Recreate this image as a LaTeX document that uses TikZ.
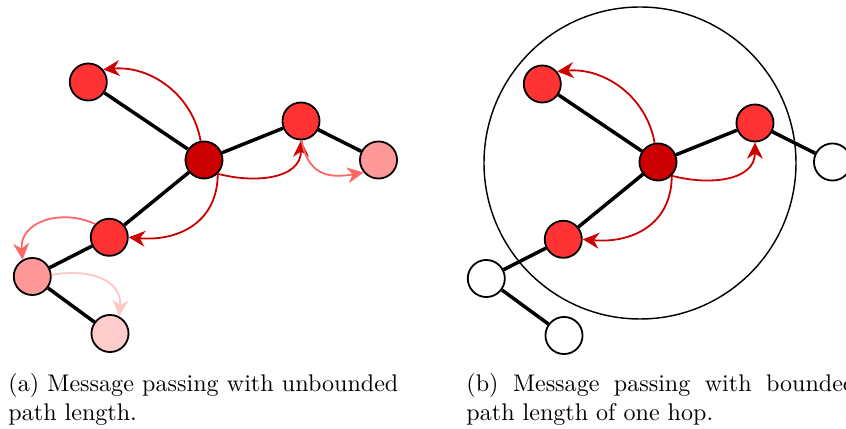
\documentclass[tikz,border=0pt]{standalone}
\usetikzlibrary{arrows.meta}

% node fills by hop distance from the source node
\definecolor{hopzero}{HTML}{CC0000}
\definecolor{hopone}{HTML}{FF3333}
\definecolor{hoptwo}{HTML}{FF9999}
\definecolor{hopthree}{HTML}{FFCCCC}
% message colours, fading with path length
\definecolor{msgone}{HTML}{CC0000}
\definecolor{msgtwo}{HTML}{FF6666}
\definecolor{msgthree}{HTML}{FFC6C6}

\begin{document}
\begin{tikzpicture}[x=0.4155pt,y=0.4155pt,
  vertex/.style={circle,draw=black,line width=0.75pt,minimum size=15.4pt,inner sep=0pt},
  link/.style={line width=1.45pt,black},
  msg/.style={line width=0.75pt,-{Stealth[length=6.8pt,width=6.6pt,inset=2.2pt]}},
  ring/.style={line width=0.6pt,black},
  caption/.style={text width=162pt,align=justify,inner sep=0pt,anchor=base west}]

\useasboundingbox (0,0) rectangle (846,-429);

% ---------- (a) unbounded path length ----------
\node[vertex,fill=hopone]   (a1) at (88.3,-82)   {};
\node[vertex,fill=hopzero]  (c)  at (204,-160)   {};
\node[vertex,fill=hopone]   (r1) at (301,-121)   {};
\node[vertex,fill=hoptwo]   (r2) at (378.5,-160) {};
\node[vertex,fill=hopone]   (l1) at (109.3,-237.3) {};
\node[vertex,fill=hoptwo]   (l2) at (32.3,-276.5) {};
\node[vertex,fill=hopthree] (l3) at (110,-333.5) {};

\draw[link] (c) -- (a1);
\draw[link] (c) -- (r1);
\draw[link] (r1) -- (r2);
\draw[link] (c) -- (l1);
\draw[link] (l1) -- (l2);
\draw[link] (l2) -- (l3);

\draw[msg,msgone]   (c.100) to[out=100,in=5]  (a1.40);
\draw[msg,msgone]   (c.-45) to[out=-15,in=-90,looseness=1.1] (r1.-90);
\draw[msg,msgone]   (c.-45) to[out=-90,in=-5,looseness=1.15]  (l1.0);
\draw[msg,msgtwo]   (r1.-88) to[out=-80,in=190,looseness=1.3] (r2.220);
\draw[msg,msgtwo]   (l1.137) to[out=155,in=95,looseness=1.2] (l2.120);
\draw[msg,msgthree] (l2.5) to[out=10,in=85,looseness=1.2] (l3.62);

\node[caption] (capa) at (8,-391.5) {(a) Message passing with unbounded path length.};

% ---------- (b) path length of one hop ----------
\node[vertex,fill=hopone]  (b-a1) at (542.3,-84)   {};
\node[vertex,fill=hopzero] (b-c)  at (658,-162)    {};
\node[vertex,fill=hopone]  (b-r1) at (755,-123)    {};
\node[vertex,fill=white]   (b-r2) at (832.5,-162)  {};
\node[vertex,fill=hopone]  (b-l1) at (563.3,-239.3) {};
\node[vertex,fill=white]   (b-l2) at (486.3,-278.5) {};
\node[vertex,fill=white]   (b-l3) at (564,-335.5)  {};

\draw[link] (b-c) -- (b-a1);
\draw[link] (b-c) -- (b-r1);
\draw[link] (b-r1) -- (b-r2);
\draw[link] (b-c) -- (b-l1);
\draw[link] (b-l1) -- (b-l2);
\draw[link] (b-l2) -- (b-l3);

% one-hop neighbourhood
\coordinate (zone) at (640,-163);
\draw[ring] (zone) circle[radius=156];

\draw[msg,msgone] (b-c.100) to[out=100,in=5]  (b-a1.40);
\draw[msg,msgone] (b-c.-45) to[out=-15,in=-90,looseness=1.1] (b-r1.-90);
\draw[msg,msgone] (b-c.-45) to[out=-90,in=-5,looseness=1.15]  (b-l1.0);

\node[caption] (capb) at (466,-391.5) {(b) Message passing with bounded path length of one hop.};
\end{tikzpicture}
\end{document}
